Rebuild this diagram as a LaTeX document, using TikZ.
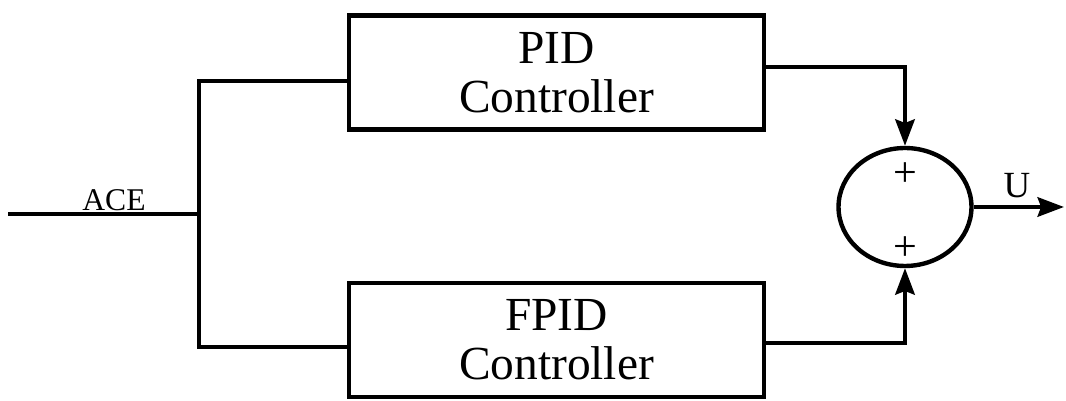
\documentclass[tikz,border=0pt]{standalone}
\usepackage{fontspec}
\setmainfont{Liberation Serif}
\usetikzlibrary{shapes.geometric, arrows.meta}
\tikzset{>={Stealth[length=15pt, width=11pt, inset=2pt]}}
\tikzset{
    ctrlbox/.style={draw, line width=2.5pt, minimum width=8.3cm, minimum height=2.28cm,
        align=center, font=\fontsize{27}{28}\selectfont, inner sep=0pt},
    sumnode/.style={draw, ellipse, line width=2.5pt, minimum width=2.66cm, minimum height=2.36cm, inner sep=0pt},
    wire/.style={line width=2.5pt}
}

\begin{document}
\begin{tikzpicture}[x=0.02cm, y=-0.02cm]
    \useasboundingbox (0,0) rectangle (1066,401);
    % blocks
    \node[ctrlbox] (pid) at (556.5,72.5) {PID\\Controller};
    \node[ctrlbox] (fpid) at (556.5,340) {FPID\\Controller};
    \node[sumnode] (sum) at (905,207) {};
    \node[font=\fontsize{24}{24}\selectfont] (p1) at (905,175) {+};
    \node[font=\fontsize{24}{24}\selectfont] (p2) at (905,249) {+};
    % points on the wires
    \coordinate (in) at (8,214);
    \coordinate (split) at (199,214);
    \coordinate (jt) at (199,81);
    \coordinate (jb) at (199,347);
    \coordinate (ot) at (765,67);
    \coordinate (ob) at (765,343);
    \coordinate (out) at (1064,207);
    % wires
    \draw[wire] (in) -- (split);
    \draw[wire] (pid.west |- jt) -- (jt) -- (jb) -- (fpid.west |- jb);
    \draw[wire, ->] (ot) -| (sum.north);
    \draw[wire, ->] (ob) -| (sum.south);
    \draw[wire, ->] (sum.east) -- (out);
    % labels
    \node[font=\fontsize{18}{18}\selectfont] (ace) at (114,200) {ACE};
    \node[font=\fontsize{21}{21}\selectfont] (u) at (1017,186) {U};
\end{tikzpicture}
\end{document}
